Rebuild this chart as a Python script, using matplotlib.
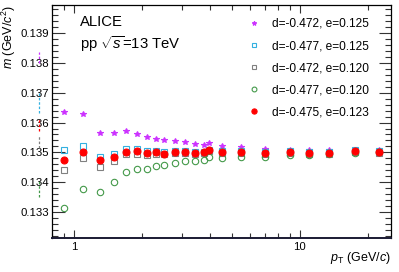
import matplotlib
matplotlib.use("Agg")
import matplotlib.pyplot as plt
from matplotlib.ticker import FixedLocator, MultipleLocator, NullFormatter, FixedFormatter
from matplotlib.lines import Line2D

plt.rcParams['font.family'] = ['Liberation Sans', 'DejaVu Sans']
plt.rcParams['mathtext.fontset'] = 'custom'
plt.rcParams['mathtext.rm'] = 'Liberation Sans'
plt.rcParams['mathtext.it'] = 'Liberation Sans:italic'

# ---- data ----
pt = [0.9, 1.1, 1.3, 1.5, 1.7, 1.9, 2.1, 2.3, 2.5, 2.8, 3.1, 3.45, 3.75, 3.95,
      4.5, 5.5, 7.0, 9.0, 11.0, 13.5, 17.5, 22.5]

m_d472_e125 = [0.13634, 0.13627, 0.13564, 0.13564, 0.13571, 0.13563, 0.13551, 0.13546,
               0.13542, 0.13538, 0.13534, 0.13528, 0.13524, 0.13532, 0.13522, 0.13518,
               0.13512, 0.13509, 0.13507, 0.13507, 0.13509, 0.13507]
m_d477_e125 = [0.13507, 0.13523, 0.13485, 0.13495, 0.13511, 0.13511, 0.13506, 0.13503,
               0.13502, 0.13504, 0.13504, 0.13501, 0.13502, 0.13509, 0.13503, 0.13504,
               0.13501, 0.13503, 0.13501, 0.13502, 0.13507, 0.13503]
m_d472_e120 = [0.13440, 0.13480, 0.13451, 0.13470, 0.13496, 0.13496, 0.13492, 0.13495,
               0.13495, 0.13498, 0.13499, 0.13495, 0.13497, 0.13504, 0.13498, 0.13498,
               0.13495, 0.13497, 0.13495, 0.13496, 0.13502, 0.13498]
m_d477_e120 = [0.13313, 0.13377, 0.13368, 0.13401, 0.13433, 0.13444, 0.13444, 0.13455,
               0.13458, 0.13465, 0.13470, 0.13471, 0.13476, 0.13486, 0.13482, 0.13485,
               0.13485, 0.13491, 0.13491, 0.13493, 0.13498, 0.13500]
m_d475_e123 = [0.13473, 0.13501, 0.13476, 0.13485, 0.13502, 0.13503, 0.13498, 0.13500,
               0.13496, 0.13501, 0.13502, 0.13498, 0.13500, 0.13507, 0.13501, 0.13501,
               0.13498, 0.13500, 0.13498, 0.13499, 0.13505, 0.13501]

# first bin (pT = 0.7) lies left of the frame; only its error bars are visible
pt_low = 0.7
low_vals = [0.13818, 0.13667, 0.13534, 0.13380, 0.13593]
low_errs = [0.00017, 0.00034, 0.00020, 0.00028, 0.00023]

labels = ['d=-0.472, e=0.125', 'd=-0.477, e=0.125', 'd=-0.472, e=0.120',
          'd=-0.477, e=0.120', 'd=-0.475, e=0.123']
colors = ['#cc33ff', '#33b0e0', '#808080', '#44994a', '#ff0000']
markers = ['*', 's', 's', 'o', 'o']
fills = [True, False, False, False, True]
sizes = [4.3, 4.6, 4.6, 4.6, 5]

series = [m_d472_e125, m_d477_e125, m_d472_e120, m_d477_e120, m_d475_e123]

fig = plt.figure(figsize=(3.99, 2.72), dpi=100)
ax = fig.add_axes([52/399, 1-238/272, (391-52)/399, (238-5)/272])

for vals, c, mk, f, s in zip(series, colors, markers, fills, sizes):
    ax.plot(pt, vals, linestyle='none', marker=mk, ms=s, mew=0.8,
            mec=c, mfc=c if f else 'none', clip_on=True, zorder=3)

for v, e, c in zip(low_vals, low_errs, colors):
    ax.plot([pt_low, pt_low], [v - e, v + e], color=c, lw=0.9, clip_on=False,
            linestyle=(0, (2, 1.5)))

ax.set_xscale('log')
ax.set_xlim(0.8, 25.3)
ax.set_ylim(0.13213, 0.13994)

ax.xaxis.set_major_locator(FixedLocator([1, 10]))
ax.xaxis.set_major_formatter(FixedFormatter(['1', '10']))
ax.xaxis.set_minor_locator(FixedLocator([0.8, 0.9, 2, 3, 4, 5, 6, 7, 8, 9, 20]))
ax.xaxis.set_minor_formatter(NullFormatter())
ax.yaxis.set_major_locator(MultipleLocator(0.001))
ax.yaxis.set_minor_locator(MultipleLocator(0.0002))
ax.yaxis.set_major_formatter(matplotlib.ticker.FormatStrFormatter('%.3f'))

ax.tick_params(which='both', direction='in', top=True, right=True, labelsize=8.2,
               color='#333333', width=0.8)
ax.tick_params(axis='y', which='major', length=9, pad=2)
ax.tick_params(axis='y', which='minor', length=4.5)
ax.tick_params(axis='x', which='major', length=6, pad=3)
ax.tick_params(axis='x', which='minor', length=3.5)

for sp in ax.spines.values():
    sp.set_linewidth(0.9)
ax.spines['bottom'].set_color('#1a1a33')
ax.spines['bottom'].set_linewidth(1.4)

ax.set_xlabel(r'$p_{\mathrm{T}}$ (GeV/$c$)', fontsize=9, ha='right', va='center')
ax.xaxis.set_label_coords(1.0, -(258 - 238) / 233)
ax.set_ylabel(r'$m$ (GeV/$c^{2}$)', fontsize=9, ha='right', va='center')
ax.yaxis.set_label_coords(-(52 - 9) / 339, 1.0)

ax.text(80/399, 1 - 22/272, 'ALICE', transform=fig.transFigure, fontsize=10.7,
        va='center', ha='left')
ax.text(80/399, 1 - 44/272, r'pp $\sqrt{s}$=13 TeV', transform=fig.transFigure,
        fontsize=10.7, va='center', ha='left')

handles = [Line2D([], [], linestyle='none', marker=mk, ms=s * 0.75, mew=0.8, mec=c,
                  mfc=c if f else 'none')
           for c, mk, f, s in zip(colors, markers, fills, sizes)]
leg = ax.legend(handles, labels, loc='upper left', bbox_to_anchor=(248/399, 1 - 18/272),
                bbox_transform=fig.transFigure, frameon=False, fontsize=8.6,
                handlelength=1.0, handletextpad=1.0, labelspacing=0.85,
                borderpad=0, borderaxespad=0, numpoints=1)

fig.savefig('out.png', dpi=100)
